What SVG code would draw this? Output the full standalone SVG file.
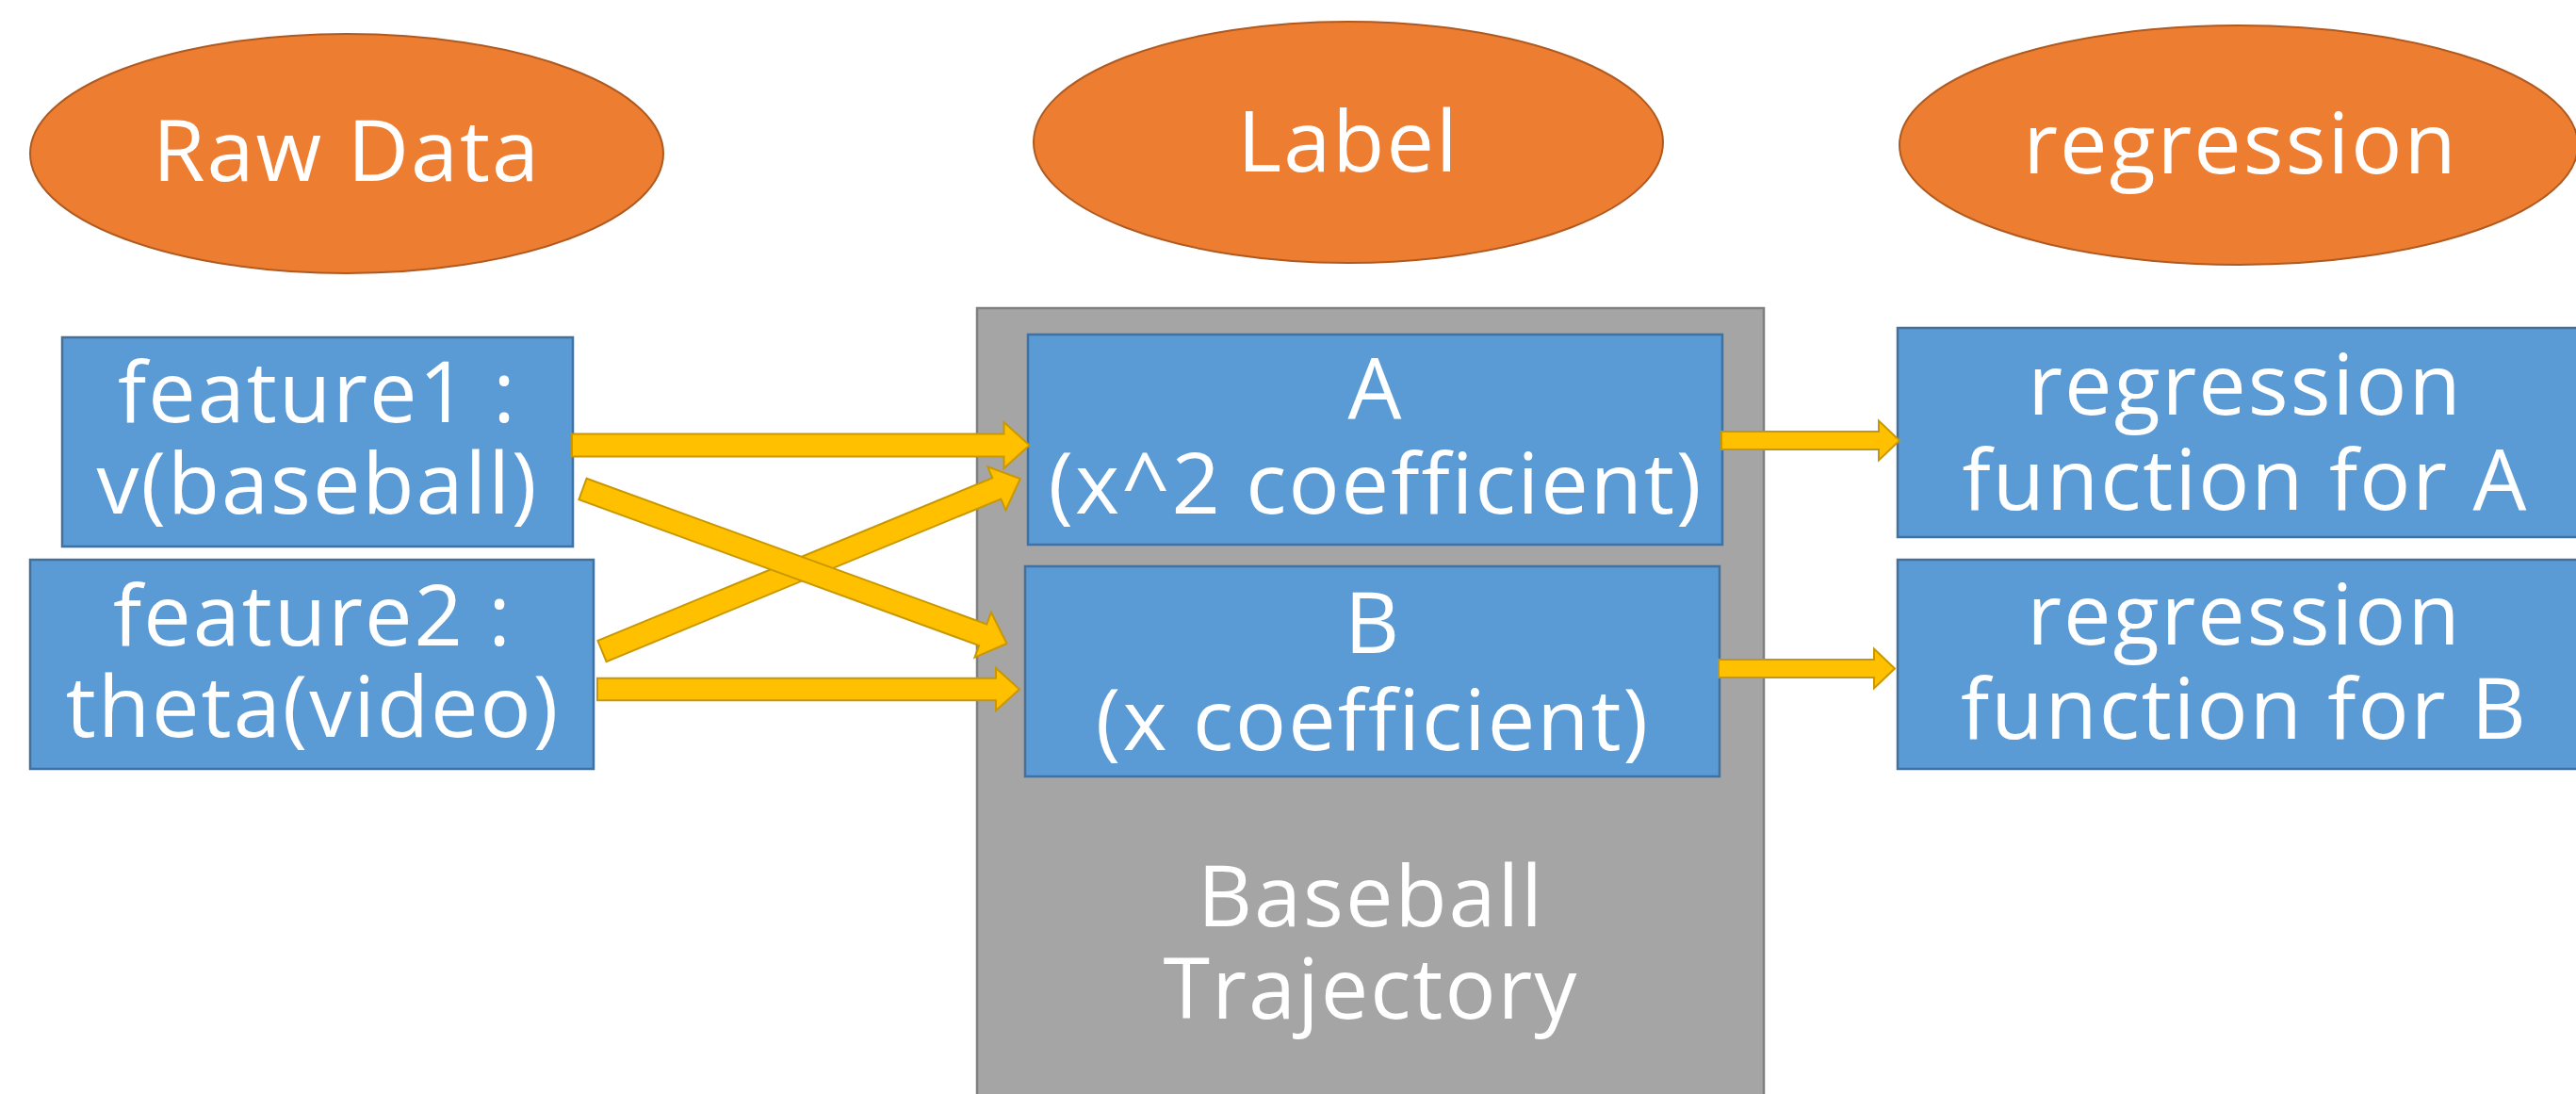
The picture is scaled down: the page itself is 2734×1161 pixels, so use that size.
<svg xmlns="http://www.w3.org/2000/svg" width="2734" height="1161" viewBox="0 0 2734 1161">
<style>
  .oval { fill: #ED7D31; stroke: #AE5A21; stroke-width: 2; }
  .box { fill: #5B9BD5; stroke: #41719C; stroke-width: 2.5; }
  .frame { fill: #A5A5A5; stroke: #7F7F7F; stroke-width: 2.5; }
  .arrow { fill: #FFC000; stroke: #C99700; stroke-width: 2; stroke-linejoin: miter; }
  text { font-family: "Open Sans", "Noto Sans", "DejaVu Sans", sans-serif; font-size: 90px; letter-spacing: 2px; fill: #FFFFFF; text-anchor: middle; }
</style>
<rect width="2734" height="1161" fill="#FFFFFF"/>

<g id="frame-trajectory">
  <rect class="frame" x="1037" y="327" width="835" height="850"/>
  <text x="1455" y="983">Baseball</text>
  <text x="1455" y="1081">Trajectory</text>
</g>

<g id="raw-data">
  <ellipse class="oval" cx="368" cy="163" rx="336" ry="127"/>
  <text x="368" y="192">Raw Data</text>
</g>
<g id="label">
  <ellipse class="oval" cx="1431" cy="151" rx="334" ry="128"/>
  <text x="1431" y="182">Label</text>
</g>
<g id="regression">
  <ellipse class="oval" cx="2376" cy="154" rx="360" ry="127"/>
  <text x="2378" y="184">regression</text>
</g>

<g id="feature1">
  <rect class="box" x="66" y="358" width="542" height="222"/>
  <text x="337" y="448">feature1 :</text>
  <text x="337" y="545">v(baseball)</text>
</g>
<g id="feature2">
  <rect class="box" x="32" y="594" width="598" height="222"/>
  <text x="332" y="685">feature2 :</text>
  <text x="332" y="782">theta(video)</text>
</g>
<g id="coef-a">
  <rect class="box" x="1091" y="355" width="737" height="223"/>
  <text x="1460" y="444">A</text>
  <text x="1460" y="545">(x^2 coefficient)</text>
</g>
<g id="coef-b">
  <rect class="box" x="1088" y="601" width="737" height="223"/>
  <text x="1457" y="693">B</text>
  <text x="1457" y="796">(x coefficient)</text>
</g>
<g id="regfunc-a">
  <rect class="box" x="2014" y="348" width="740" height="222"/>
  <text x="2383" y="440">regression</text>
  <text x="2383" y="541">function for A</text>
</g>
<g id="regfunc-b">
  <rect class="box" x="2014" y="594" width="740" height="222"/>
  <text x="2382" y="684">regression</text>
  <text x="2382" y="784">function for B</text>
</g>

<g id="connectors">
  <polygon class="arrow" transform="translate(607,472.5)" points="0,-12 458.5,-12 458.5,-24.5 485.5,0 458.5,24.5 458.5,12 0,12"/>
  <polygon class="arrow" transform="translate(634,731.5)" points="0,-11.75 423,-11.75 423,-22.5 448,0 423,22.5 423,11.75 0,11.75"/>
  <polygon class="arrow" transform="translate(639,691) rotate(-22.4)" points="0,-12 453,-12 453,-25 480,0 453,25 453,12 0,12"/>
  <polygon class="arrow" transform="translate(618.5,519) rotate(20.02)" points="0,-12 452,-12 452,-25.5 479,0 452,25.5 452,12 0,12"/>
  <polygon class="arrow" transform="translate(1827,467.5)" points="0,-9.5 167,-9.5 167,-21 189,0 167,21 167,9.5 0,9.5"/>
  <polygon class="arrow" transform="translate(1824,709.5)" points="0,-9.5 165,-9.5 165,-21 187,0 165,21 165,9.5 0,9.5"/>
</g>
</svg>
